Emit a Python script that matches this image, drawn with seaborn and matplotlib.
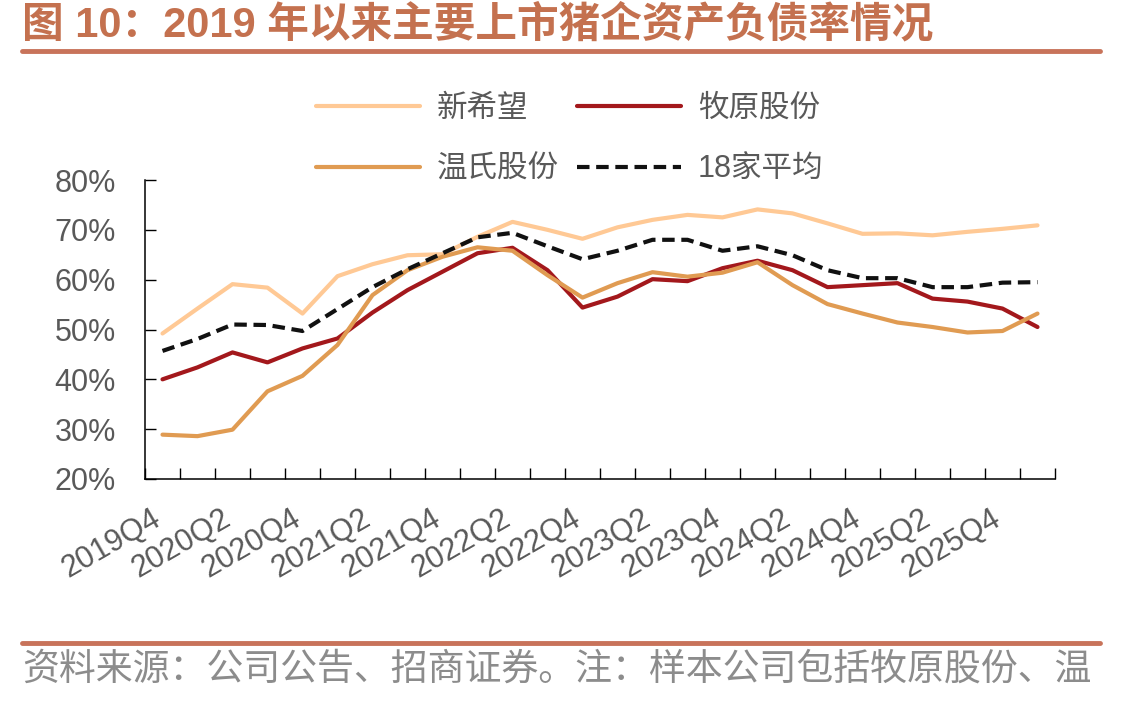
import matplotlib
matplotlib.use('Agg')
import matplotlib.pyplot as plt
from matplotlib.lines import Line2D
import seaborn as sns
import numpy as np
import pandas as pd

sns.set_style("ticks")
plt.rcParams['font.family'] = ['Liberation Sans', 'Noto Sans CJK SC']
plt.rcParams['axes.unicode_minus'] = False

# quarters on the x axis (label shown every 2 quarters)
quarters = ['2019Q4', '2020Q1', '2020Q2', '2020Q3', '2020Q4', '2021Q1', '2021Q2',
            '2021Q3', '2021Q4', '2022Q1', '2022Q2', '2022Q3', '2022Q4', '2023Q1',
            '2023Q2', '2023Q3', '2023Q4', '2024Q1', '2024Q2', '2024Q3', '2024Q4',
            '2025Q1', '2025Q2', '2025Q3', '2025Q4', '2026Q1']
tick_labels = ['2019Q4', '2020Q2', '2020Q4', '2021Q2', '2021Q4', '2022Q2', '2022Q4',
               '2023Q2', '2023Q4', '2024Q2', '2024Q4', '2025Q2', '2025Q4']

# debt-to-asset ratio, %
xinxiwang = [49.2, 54.2, 59.1, 58.4, 53.2, 60.7, 63.1, 64.9, 65.1, 68.6, 71.6, 70.0, 68.2,
             70.5, 72.0, 73.0, 72.5, 74.1, 73.3, 71.3, 69.2, 69.3, 68.9, 69.6, 70.2, 70.9]
muyuan = [40.0, 42.4, 45.4, 43.4, 46.2, 48.2, 53.4, 57.9, 61.6, 65.3, 66.4, 61.9, 54.4,
          56.6, 60.1, 59.7, 62.3, 63.8, 61.9, 58.5, 58.9, 59.3, 56.2, 55.6, 54.2, 50.5]
wens = [28.9, 28.6, 29.9, 37.6, 40.7, 46.9, 56.9, 61.9, 64.6, 66.5, 65.8, 60.9, 56.4,
        59.3, 61.5, 60.6, 61.4, 63.5, 58.9, 55.1, 53.2, 51.4, 50.5, 49.4, 49.7, 53.2]
avg18 = [45.7, 48.1, 51.0, 50.9, 49.7, 54.1, 58.5, 62.1, 65.3, 68.5, 69.4, 66.7, 64.1,
         65.8, 68.0, 68.0, 65.8, 66.7, 64.9, 61.9, 60.3, 60.3, 58.5, 58.5, 59.4, 59.5]

series = {'新希望': xinxiwang, '牧原股份': muyuan, '温氏股份': wens, '18家平均': avg18}
rows = []
for name, vals in series.items():
    for i, v in enumerate(vals):
        rows.append({'idx': i, 'quarter': quarters[i], 'series': name, 'value': v})
df = pd.DataFrame(rows)

palette = {'新希望': '#FFC995', '牧原股份': '#A3181C', '温氏股份': '#E09B52', '18家平均': '#111111'}
dashes = {'新希望': '', '牧原股份': '', '温氏股份': '', '18家平均': (3, 1.6)}

W, H = 1145, 703
fig = plt.figure(figsize=(W / 100, H / 100), dpi=100)
ax = fig.add_axes([145 / W, 1 - 479 / H, 910 / W, 299 / H])

sns.lineplot(data=df, x='idx', y='value', hue='series', style='series',
             palette=palette, dashes=dashes, linewidth=3, sort=False,
             legend=False, ax=ax)

ax.set_xlim(-0.5, len(quarters) - 0.5)
ax.set_ylim(20, 80)
ax.set_yticks(range(20, 81, 10))
ax.set_yticklabels([f'{v}%' for v in range(20, 81, 10)])
ax.set_xticks(range(0, len(quarters), 2))
ax.set_xticklabels(tick_labels, rotation=30, ha='right', va='baseline', rotation_mode='anchor')
ax.set_xticks(np.arange(-0.5, len(quarters), 1), minor=True)
ax.tick_params(axis='x', which='major', length=0, pad=32, labelsize=22, labelcolor='#595959')
ax.tick_params(axis='x', which='minor', direction='in', length=8, width=1, color='black')
ax.tick_params(axis='y', direction='in', length=8, width=1, pad=21, labelsize=22,
               labelcolor='#595959', color='black')
ax.set_xlabel('')
ax.set_ylabel('')
sns.despine(ax=ax)
for s in ['left', 'bottom']:
    ax.spines[s].set_color('black')
    ax.spines[s].set_linewidth(1.1)

# legend: 2x2, outside above the plot
order = ['新希望', '温氏股份', '牧原股份', '18家平均']
handles = [Line2D([], [], color=palette[n], lw=3,
                  linestyle=(0, (3, 1.6)) if n == '18家平均' else '-') for n in order]
fig.legend(handles, order, loc='upper left', bbox_to_anchor=(316 / W, 1 - 94 / H),
           ncol=2, frameon=False, fontsize=22, handlelength=3.4, handletextpad=0.55,
           columnspacing=0.6, labelspacing=1.0, borderpad=0, borderaxespad=0,
           labelcolor='#595959')

# header and footer
fig.text(22 / W, 1 - 25 / H, '图 10：2019 年以来主要上市猪企资产负债率情况',
         fontsize=30, fontweight='bold', color='#C4714F', va='center', ha='left',
         family=['Liberation Sans', 'Noto Sans CJK SC'])
fig.add_artist(Line2D([22 / W, 1100 / W], [1 - 51 / H, 1 - 51 / H], color='#C8735A', lw=3.5))
fig.add_artist(Line2D([22 / W, 1100 / W], [1 - 643 / H, 1 - 643 / H], color='#C8735A', lw=3.5))
fig.text(22 / W, 1 - 669 / H, '资料来源：公司公告、招商证券。注：样本公司包括牧原股份、温',
         fontsize=26.6, color='#8C8C8C', va='center', ha='left',
         family=['Noto Sans CJK SC'])

fig.savefig('out.png', dpi=100)
